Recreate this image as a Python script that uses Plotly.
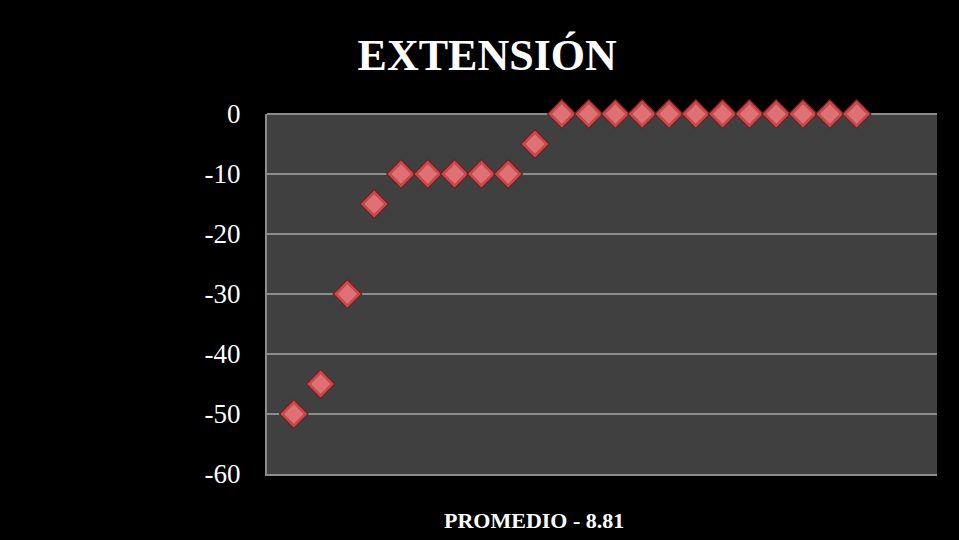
import plotly.graph_objects as go

# Extension measurements per subject (degrees), sorted ascending
subjects = list(range(1, 23))
extension = [-50, -45, -30, -15, -10, -10, -10, -10, -10, -5,
             0, 0, 0, 0, 0, 0, 0, 0, 0, 0, 0, 0]
y_ticks = [0, -10, -20, -30, -40, -50, -60]
title_text = "EXTENSIÓN"
footer_text = "PROMEDIO - 8.81"

W, H = 959, 540
L, R, T, B = 267, 22, 114, 66
serif = "Liberation Serif"

fig = go.Figure()
# Bevelled diamond markers: dark outer body plus lighter inner face
fig.add_trace(go.Scatter(
    x=subjects, y=extension, mode="markers", cliponaxis=False,
    marker=dict(symbol="diamond", size=22, color="#c8494c",
                line=dict(color="#6e2223", width=1.2)),
    hoverinfo="x+y", showlegend=False))
fig.add_trace(go.Scatter(
    x=subjects, y=extension, mode="markers", cliponaxis=False,
    marker=dict(symbol="diamond", size=15, color="#df7174",
                line=dict(width=0)),
    hoverinfo="skip", showlegend=False))

fig.update_layout(
    width=W, height=H,
    margin=dict(l=L, r=R, t=T, b=B, pad=0),
    paper_bgcolor="#000000",
    plot_bgcolor="#404040",
    title=dict(text=f"<b>{title_text}</b>", x=0.508, xref="container",
               xanchor="center", y=1 - 55 / H, yref="container", yanchor="middle",
               font=dict(family=serif, size=44, color="#ffffff")),
    xaxis=dict(range=[0, 25], showgrid=False, zeroline=False,
               showticklabels=False, ticks="",
               showline=True, linecolor="#8c8c8c", linewidth=2, mirror=False),
    yaxis=dict(range=[-60, 0], tickvals=y_ticks,
               ticktext=[str(v) for v in y_ticks],
               showgrid=True, gridcolor="#8c8c8c", gridwidth=2,
               zeroline=True, zerolinecolor="#8c8c8c", zerolinewidth=2,
               showline=True, linecolor="#8c8c8c", linewidth=2,
               ticks="", ticklabelstandoff=19,
               tickfont=dict(family=serif, size=27, color="#ffffff")),
    annotations=[dict(text=f"<b>{footer_text}</b>", xref="paper", yref="paper",
                      x=(534 - L) / (W - L - R), y=-(520 - (H - B)) / (H - T - B),
                      xanchor="center", yanchor="middle", showarrow=False,
                      font=dict(family=serif, size=22, color="#ffffff"))],
)

fig.write_html("out.html")
